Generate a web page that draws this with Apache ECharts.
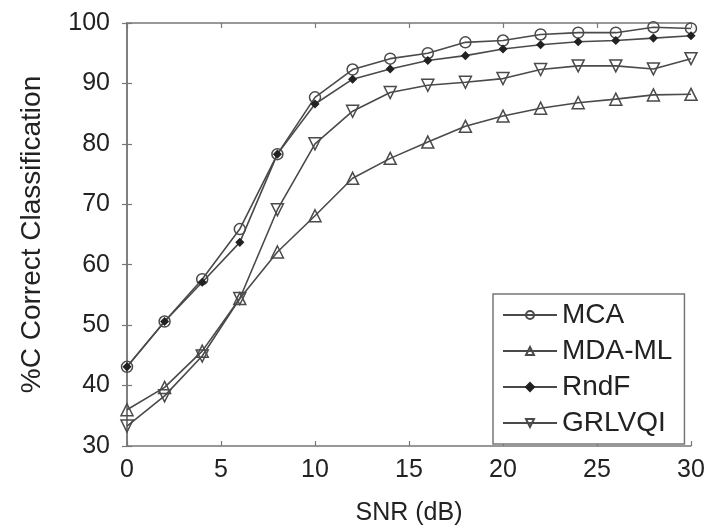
<!DOCTYPE html>
<html>
<head>
<meta charset="utf-8">
<script src="https://cdn.jsdelivr.net/npm/echarts@6/dist/echarts.min.js"></script>
<style>
html,body{margin:0;padding:0;background:#fff;}
#chart{width:715px;height:531px;}
</style>
</head>
<body>
<div id="chart"></div>
<script>
var snr = [0, 2, 4, 6, 8, 10, 12, 14, 16, 18, 20, 22, 24, 26, 28, 30];
var mca    = [43.1, 50.6, 57.6, 65.9, 78.3, 87.7, 92.3, 94.1, 95.0, 96.8, 97.1, 98.1, 98.4, 98.4, 99.3, 99.1];
var mdaml  = [36.0, 39.7, 45.7, 54.4, 62.1, 68.1, 74.3, 77.6, 80.3, 82.9, 84.6, 85.9, 86.8, 87.4, 88.1, 88.2];
var rndf   = [43.1, 50.6, 57.1, 63.7, 78.3, 86.6, 90.7, 92.4, 93.8, 94.6, 95.7, 96.4, 96.9, 97.1, 97.5, 97.9];
var grlvqi = [33.3, 38.3, 44.9, 54.4, 69.1, 80.0, 85.4, 88.5, 89.7, 90.2, 90.8, 92.3, 92.9, 92.9, 92.4, 94.1];
var seriesNames = ['MCA', 'MDA-ML', 'RndF', 'GRLVQI'];
var xTicks = [0, 5, 10, 15, 20, 25, 30];
var yTicks = [30, 40, 50, 60, 70, 80, 90, 100];

function pairs(v){ return snr.map(function(x,i){ return [x, v[i]]; }); }

var lineCol = '#4a4a4a';
var axisCol = '#777';
var txtCol = '#222';
var font = 'Liberation Sans, Arial, sans-serif';

var chart = echarts.init(document.getElementById('chart'), null, {renderer:'canvas'});

function mkSeries(name, data, symbol, size, rotate, filled){
  return {
    name: name, type: 'line', data: pairs(data),
    symbol: symbol, symbolSize: size, symbolRotate: rotate,
    showAllSymbol: true,
    lineStyle: {color: lineCol, width: 1.6},
    itemStyle: {color: filled ? '#222' : 'rgba(255,255,255,0)', borderColor: filled ? '#222' : lineCol, borderWidth: 1.5},
    emphasis: {disabled: true},
    animation: false
  };
}

var axisCommon = {
  type: 'value',
  axisLine: {show: true, lineStyle: {color: axisCol, width: 1.5}},
  axisTick: {show: true, inside: true, length: 5, lineStyle: {color: axisCol, width: 1.2}},
  splitLine: {show: false},
  axisLabel: {color: txtCol, fontSize: 25, fontFamily: font}
};

var option = {
  backgroundColor: '#fff',
  animation: false,
  grid: {left: 127, right: 24, top: 23, bottom: 79, containLabel: false},
  xAxis: [
    Object.assign({}, axisCommon, {
      min: 0, max: 30, interval: 5, position: 'bottom',
      name: 'SNR (dB)', nameLocation: 'middle', nameGap: 55,
      nameTextStyle: {color: txtCol, fontSize: 25, fontFamily: font},
      axisLabel: {color: txtCol, fontSize: 25, fontFamily: font, margin: 12,
        formatter: function(v){ return xTicks.indexOf(v) >= 0 ? String(v) : ''; }}
    }),
    Object.assign({}, axisCommon, {
      min: 0, max: 30, interval: 5, position: 'top',
      axisLabel: {show: false}
    })
  ],
  yAxis: [
    Object.assign({}, axisCommon, {
      min: 30, max: 100, interval: 10, position: 'left',
      name: '%C Correct Classification', nameLocation: 'middle', nameGap: 81, nameRotate: 90,
      nameTextStyle: {color: txtCol, fontSize: 28, fontFamily: font},
      axisLabel: {color: txtCol, fontSize: 25, fontFamily: font, margin: 17,
        formatter: function(v){ return yTicks.indexOf(v) >= 0 ? String(v) : ''; }}
    }),
    Object.assign({}, axisCommon, {
      min: 30, max: 100, interval: 10, position: 'right',
      axisLabel: {show: false}
    })
  ],
  legend: {
    orient: 'vertical',
    left: 493, top: 294,
    data: seriesNames,
    itemWidth: 54, itemHeight: 10, itemGap: 4,
    padding: [5, 12, 5, 9],
    borderColor: axisCol, borderWidth: 1.5,
    backgroundColor: '#fff',
    textStyle: {color: txtCol, fontSize: 28, fontFamily: font, lineHeight: 32, padding: [0,0,0,0]},
    selectedMode: false
  },
  series: [
    mkSeries(seriesNames[0], mca, 'circle', 11, 0, false),
    mkSeries(seriesNames[1], mdaml, 'triangle', 12, 0, false),
    mkSeries(seriesNames[2], rndf, 'diamond', 7, 0, true),
    mkSeries(seriesNames[3], grlvqi, 'triangle', 12, 180, false)
  ]
};
chart.setOption(option);
</script>
</body>
</html>
